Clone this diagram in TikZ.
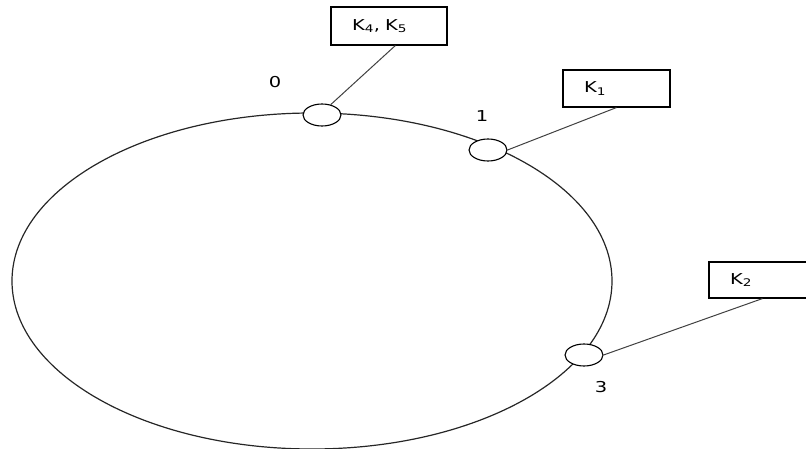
\documentclass[tikz,border=0pt]{standalone}
\usepackage{fontspec}
\setmainfont{DejaVu Sans}[FakeStretch = 1.3]
\usetikzlibrary{shapes.geometric}

\begin{document}
\begin{tikzpicture}[x = 1pt, y = -1pt, font = \fontsize{15}{17}\selectfont,
	peer/.style = {draw, ellipse, fill = white, line width = 1.1pt, minimum width = 38, minimum height = 22, inner sep = 0pt},
	keybox/.style = {draw, rectangle, line width = 1.1pt, minimum height = 37, inner xsep = 21pt, text width = #1, align = left},
	link/.style = {black!75, line width = 1pt}]

	% Frame
	
	\useasboundingbox (0, 0) rectangle (806, 449);
	\clip (0, 0) rectangle (806, 449);
	
	% Ring
	
	\draw [black!85, line width = 1.2pt] (312, 281) ellipse [x radius = 300, y radius = 168];
	
	% Peers on the ring
	
	\node [peer] (n0) at (322, 115) {};
	\node [peer] (n1) at (488, 150) {};
	\node [peer] (n3) at (584, 355) {};
	
	\node (l0) at (275, 82) {0};
	\node (l1) at (482, 116) {1};
	\node (l3) at (601, 387) {3};
	
	% Keys
	
	\node [keybox = 74pt, minimum height = 38] (b45) at (389, 26) {K\textsubscript{4}, K\textsubscript{5}};
	\node [keybox = 65pt] (b1) at (616.5, 88.5) {K\textsubscript{1}};
	\node [keybox = 65pt, minimum height = 36] (b2) at (762.5, 280) {K\textsubscript{2}};
	
	% Links
	
	\draw [link] (n0.50) -- (b45.-72);
	\draw [link] (n1.east) -- (b1.south);
	\draw [link] (n3.east) -- (b2.south);
	
\end{tikzpicture}
\end{document}
